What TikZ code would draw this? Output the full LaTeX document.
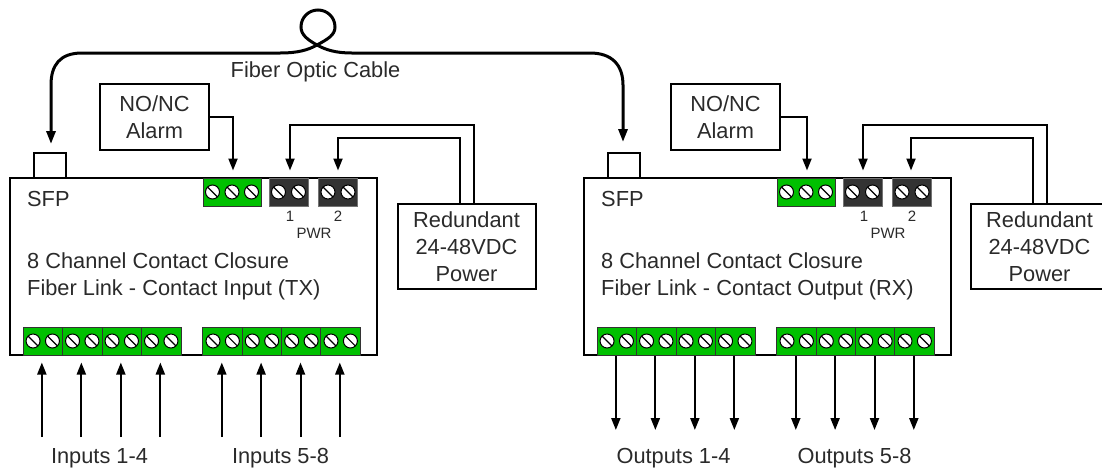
\documentclass[tikz,border=0pt]{standalone}
\usepackage{fontspec}
\setmainfont{Liberation Sans}
\usetikzlibrary{arrows.meta}

\definecolor{termgreen}{HTML}{00C000}
\definecolor{termdark}{HTML}{333333}
\definecolor{inkgray}{HTML}{2A2A2A}

\tikzset{
  labeltext/.style = {text=inkgray, inner sep=0pt, align=center, font=\fontsize{21.8}{27}\selectfont},
  smalltext/.style = {text=inkgray, inner sep=0pt, font=\fontsize{15}{17}\selectfont},
  box/.style = {draw, line width=2pt, inner sep=0pt, align=center, text=inkgray, font=\fontsize{21.8}{27}\selectfont},
  greenblock/.style = {draw=black!80, line width=1pt, fill=termgreen, inner sep=0pt, minimum height=28pt},
  darkblock/.style = {draw=black!55, line width=1pt, fill=termdark, inner sep=0pt, minimum width=39pt, minimum height=28pt},
  screw/.style = {circle, draw, line width=1pt, fill=white, inner sep=0pt, minimum size=14pt,
    path picture={\draw[line width=1.2pt] (path picture bounding box.north west) -- (path picture bounding box.south east);}},
  wire/.style = {line width=2pt, -{Triangle[length=12pt,width=9pt]}, shorten >=7pt},
  inflow/.style = {wire},
  outflow/.style = {line width=2pt, {Triangle[length=12pt,width=9pt]}-, shorten <=7pt},
  fiber/.style = {line width=3pt, {Triangle[length=13pt,width=9pt]}-{Triangle[length=13pt,width=9pt]}},
}

\begin{document}
\begin{tikzpicture}[x=1pt, y=-1pt]
  \useasboundingbox (0,0) rectangle (1102,472);

  % one device with its terminals, the second one is moved to the right
  \foreach \side/\dx/\adx/\pdx/\kind/\tag/\flow/\wname in {
      l/0/0/0/Input/TX/inflow/Inputs,
      r/574/-3/-1/Output/RX/outflow/Outputs} {
    \begin{scope}[shift={(\dx,0)}, name prefix=\side-]
      \node[box, minimum width=367pt, minimum height=177pt] (dev) at (193.5,266.5) {};
      \node[box, minimum width=32pt, minimum height=25pt] (sfp) at (49.5,165.5) {};
      \node[labeltext, anchor=west] (sfplabel) at (27,199) {SFP};
      \node[labeltext, anchor=west, align=left] (devlabel) at (27,276.5)
        {8 Channel Contact Closure\\Fiber Link - Contact \kind\ (\tag)};

      % alarm and power
      \node[box, minimum width=109pt, minimum height=66pt] (alarm) at (154.5+\adx,117) {NO/NC\\Alarm};
      \node[box, minimum width=138pt, minimum height=85pt] (power) at (466.5+\pdx,246.5)
        {Redundant\\24-48VDC\\Power};

      \node[greenblock, minimum width=58pt] (alarmterm) at (232,192) {};
      \node[darkblock] (pwrone) at (288.5,192) {};
      \node[darkblock] (pwrtwo) at (338,192) {};
      \foreach \n/\sx in {1/-19.5,2/0,3/19.5} {
        \node[screw] (as\n) at ([xshift=\sx]alarmterm.center) {};
      }
      \foreach \blk in {pwrone,pwrtwo} {
        \node[screw] (\blk a) at ([xshift=-10]\blk.center) {};
        \node[screw] (\blk b) at ([xshift=10]\blk.center) {};
      }
      \node[smalltext] (one) at (290,216) {1};
      \node[smalltext] (two) at (338,216) {2};
      \node[smalltext] (pwr) at (314,233) {PWR};

      \coordinate (pa) at (474+\pdx,204);
      \coordinate (pb) at (459.5+\pdx,204);
      \coordinate (pc) at (290+\pdx,125);
      \coordinate (pd) at (338+\pdx,138);
      \draw[wire] (alarm.east) -| ([xshift=1]alarmterm.north);
      \draw[wire] (pa) |- (pc) -- (pc |- pwrone.north);
      \draw[wire] (pb) |- (pd) -- (pd |- pwrtwo.north);

      % bottom terminals and their arrows
      \foreach \n/\bx in {1/42.75,2/82.25,3/121.75,4/161.25,5/222.7,6/262,7/301.4,8/340.7} {
        \node[greenblock, minimum width=39.5pt] (t\n) at (\bx,341) {};
        \node[screw] (t\n a) at ([xshift=-9.7]t\n.center) {};
        \node[screw] (t\n b) at ([xshift=9.7]t\n.center) {};
        \coordinate (tail\n) at (\bx-0.9,437);
        \draw[\flow] (tail\n) -- (tail\n |- t\n.south);
      }
      \node[labeltext] (groupa) at (99.5,458) {\wname\ 1-4};
      \node[labeltext] (groupb) at (280.5,458) {\wname\ 5-8};
    \end{scope}
  }

  % the cable between both SFP
  \node[labeltext] (cable) at (315.5,72) {Fiber Optic Cable};
  \coordinate (fiberl) at (51,144);
  \coordinate (fiberr) at (623,142);
  \draw[fiber] (fiberl) -- (51,85)
    .. controls (51,65) and (60,53) .. (82,53) -- (280,53)
    .. controls (298,53) and (308,50) .. (317,45)
    .. controls (328,39) and (335,35) .. (335,27)
    .. controls (335,17) and (327,10) .. (318,10)
    .. controls (309,10) and (301,17) .. (301,27)
    .. controls (301,35) and (308,40) .. (317,45)
    .. controls (326,50) and (336,53) .. (352,53) -- (590,53)
    .. controls (612,53) and (623,65) .. (623,85) -- (fiberr);
\end{tikzpicture}
\end{document}
